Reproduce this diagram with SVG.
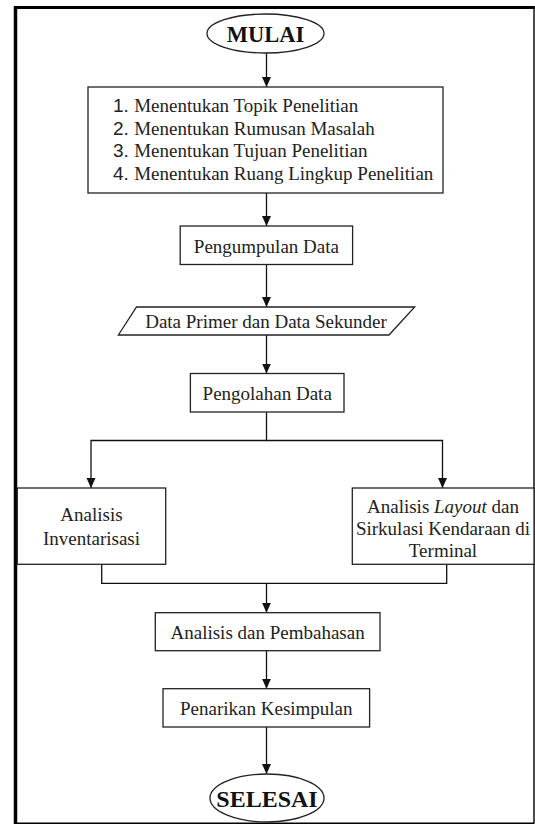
<svg xmlns="http://www.w3.org/2000/svg" width="535" height="824" viewBox="0 0 535 824">
<style>
.box{fill:#fff;stroke:#222;stroke-width:1.3}
.t{font-family:"Liberation Serif","Times New Roman",serif;font-size:19px;fill:#222}
.tb{font-family:"Liberation Serif","Times New Roman",serif;font-weight:bold;fill:#111}
.num{font-family:"Liberation Sans",Arial,sans-serif}
.c{fill:none;stroke:#111;stroke-width:1.3}
.frame{stroke:#000;fill:none}
</style>
<defs>
<marker id="ah" markerWidth="10" markerHeight="10" viewBox="0 0 10 10" refX="10" refY="5" orient="auto" markerUnits="userSpaceOnUse">
<path d="M0,0.5 L10,5 L0,9.5 Z" fill="#111"/>
</marker>
</defs>
<rect x="0" y="0" width="535" height="824" fill="#fff"/>
<g id="frame">
<line class="frame" x1="14" y1="7.5" x2="534.5" y2="7.5" stroke-width="3"/>
<line class="frame" x1="15.5" y1="6" x2="15.5" y2="824" stroke-width="3.5"/>
<line class="frame" x1="534" y1="6" x2="534" y2="823" stroke-width="1.4"/>
<line class="frame" x1="14" y1="823.2" x2="534.5" y2="823.2" stroke-width="1.4"/>
</g>
<g id="connectors">
<line class="c" x1="266.5" y1="53" x2="266.5" y2="87" marker-end="url(#ah)"/>
<line class="c" x1="266.5" y1="193" x2="266.5" y2="226" marker-end="url(#ah)"/>
<line class="c" x1="266.5" y1="264.5" x2="266.5" y2="307" marker-end="url(#ah)"/>
<line class="c" x1="266.5" y1="335" x2="266.5" y2="373.5" marker-end="url(#ah)"/>
<path class="c" d="M266.5,412 V440.5 H91 V488" marker-end="url(#ah)"/>
<path class="c" d="M266.5,440.5 H442.5 V488" marker-end="url(#ah)"/>
<path class="c" d="M101.7,564.3 V583.3 H446.7 V564.3"/>
<line class="c" x1="266.5" y1="583.3" x2="266.5" y2="612.7" marker-end="url(#ah)"/>
<line class="c" x1="266.5" y1="650.7" x2="266.5" y2="688.7" marker-end="url(#ah)"/>
<line class="c" x1="266.5" y1="727" x2="266.5" y2="774" marker-end="url(#ah)"/>
</g>
<g id="mulai">
<ellipse class="box" cx="265.5" cy="33.5" rx="58.5" ry="19.5"/>
<text class="tb" x="265.5" y="41.7" font-size="22.5" text-anchor="middle">MULAI</text>
</g>
<g id="langkah-awal">
<rect class="box" x="88" y="87" width="355" height="106"/>
<text class="t" x="113" y="112"><tspan class="num">1. </tspan>Menentukan Topik Penelitian</text>
<text class="t" x="113" y="134.5"><tspan class="num">2. </tspan>Menentukan Rumusan Masalah</text>
<text class="t" x="113" y="157"><tspan class="num">3. </tspan>Menentukan Tujuan Penelitian</text>
<text class="t" x="113" y="179.5"><tspan class="num">4. </tspan>Menentukan Ruang Lingkup Penelitian</text>
</g>
<g id="pengumpulan">
<rect class="box" x="180.2" y="226" width="172.4" height="38.5"/>
<text class="t" x="266.4" y="253" text-anchor="middle">Pengumpulan Data</text>
</g>
<g id="data-primer">
<polygon class="box" points="136.5,307 414.7,307 389,335 118.4,335"/>
<text class="t" x="266" y="327.5" text-anchor="middle">Data Primer dan Data Sekunder</text>
</g>
<g id="pengolahan">
<rect class="box" x="190.4" y="373.5" width="153.6" height="38.5"/>
<text class="t" x="267.2" y="399.5" text-anchor="middle">Pengolahan Data</text>
</g>
<g id="analisis-inventarisasi">
<rect class="box" x="17.3" y="488" width="148.4" height="76.3"/>
<text class="t" x="91.5" y="520.7" text-anchor="middle" font-size="20">Analisis</text>
<text class="t" x="91.5" y="545" text-anchor="middle" font-size="20">Inventarisasi</text>
</g>
<g id="analisis-layout">
<rect class="box" x="352.3" y="488" width="181.7" height="76.3"/>
<text class="t" x="443" y="513" text-anchor="middle">Analisis <tspan font-style="italic">Layout</tspan> dan</text>
<text class="t" x="443" y="535" text-anchor="middle">Sirkulasi Kendaraan di</text>
<text class="t" x="443" y="557" text-anchor="middle">Terminal</text>
</g>
<g id="pembahasan">
<rect class="box" x="155.3" y="612.7" width="224.7" height="38"/>
<text class="t" x="267.6" y="639" text-anchor="middle">Analisis dan Pembahasan</text>
</g>
<g id="kesimpulan">
<rect class="box" x="163" y="688.7" width="206.6" height="38.3"/>
<text class="t" x="266.3" y="715" text-anchor="middle">Penarikan Kesimpulan</text>
</g>
<g id="selesai">
<ellipse class="box" cx="267" cy="798" rx="57" ry="24"/>
<text class="tb" x="267" y="806.7" font-size="24" text-anchor="middle">SELESAI</text>
</g>
</svg>
